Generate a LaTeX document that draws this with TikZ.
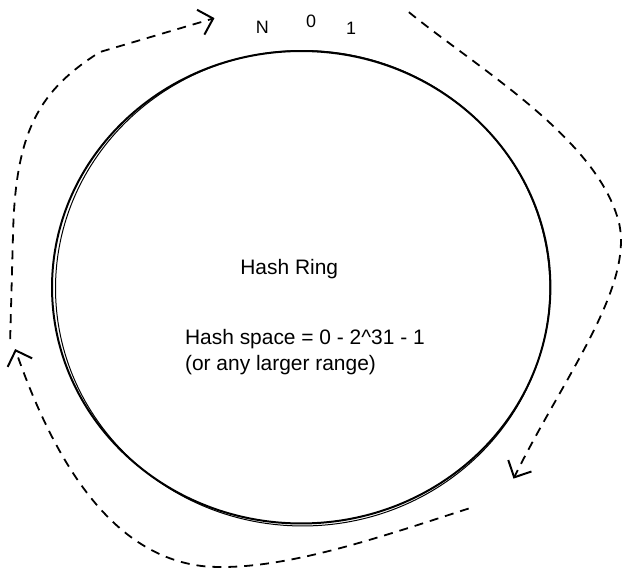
\documentclass[tikz,border=0pt]{standalone}
\usepackage{fontspec}
\setmainfont{Liberation Sans}
\usetikzlibrary{arrows.meta}
\tikzset{
  ringline/.style={color=black,line width=2pt},
  flowarrow/.style={color=black,line width=1.8pt,dash pattern=on 9pt off 7pt,-{Straight Barb[length=13pt,width=26pt,line width=2pt]}},
  marklabel/.style={font=\fontsize{18}{20}\selectfont},
  ringtext/.style={font=\fontsize{21}{26}\selectfont,align=left}
}
\begin{document}
\begin{tikzpicture}[scale=1.000000,x=1pt,y=1pt]
\filldraw[color=white] (0.000000, 0.000000) rectangle (634.000000, 579.000000);
% Drawing the ring
\draw[ringline] (302.000000, 291.000000) ellipse (250.000000 and 237.000000);
\draw[ringline,line width=1pt] (303.500000, 290.000000) ellipse (248.000000 and 238.500000);
% Drawing labels
\node[marklabel] (markN) at (263.000000, 552.000000) {N};
\node[marklabel] (markzero) at (312.000000, 558.000000) {0};
\node[marklabel] (markone) at (352.000000, 551.000000) {1};
\node[ringtext] (ringname) at (290.000000, 309.000000) {Hash Ring};
\node[ringtext,anchor=west] (ringspace) at (182.000000, 226.000000) {Hash space = 0 - 2\^{}31 - 1\\(or any larger range)};
% Drawing arrows
\coordinate (leftstart) at (10.000000, 239.000000);
\coordinate (lefttip) at (215.000000, 561.000000);
\coordinate (rightstart) at (410.000000, 567.000000);
\coordinate (rightbend) at (621.000000, 355.000000);
\coordinate (righttip) at (515.000000, 99.000000);
\coordinate (bottomstart) at (470.000000, 69.000000);
\coordinate (bottombend) at (205.000000, 11.000000);
\coordinate (bottomtip) at (15.000000, 229.000000);
\draw[flowarrow] (leftstart) -- (13.000000, 349.000000) .. controls (16.000000, 449.000000) and (40.000000, 489.000000) .. (100.000000, 527.000000) -- (lefttip);
\draw[flowarrow] (rightstart) .. controls (480.000000, 510.000000) and (600.000000, 440.000000) .. (rightbend) .. controls (635.000000, 290.000000) and (565.000000, 200.000000) .. (righttip);
\draw[flowarrow] (bottomstart) .. controls (380.000000, 40.000000) and (280.000000, 5.000000) .. (bottombend) .. controls (120.000000, 20.000000) and (60.000000, 100.000000) .. (bottomtip);
\end{tikzpicture}
\end{document}
